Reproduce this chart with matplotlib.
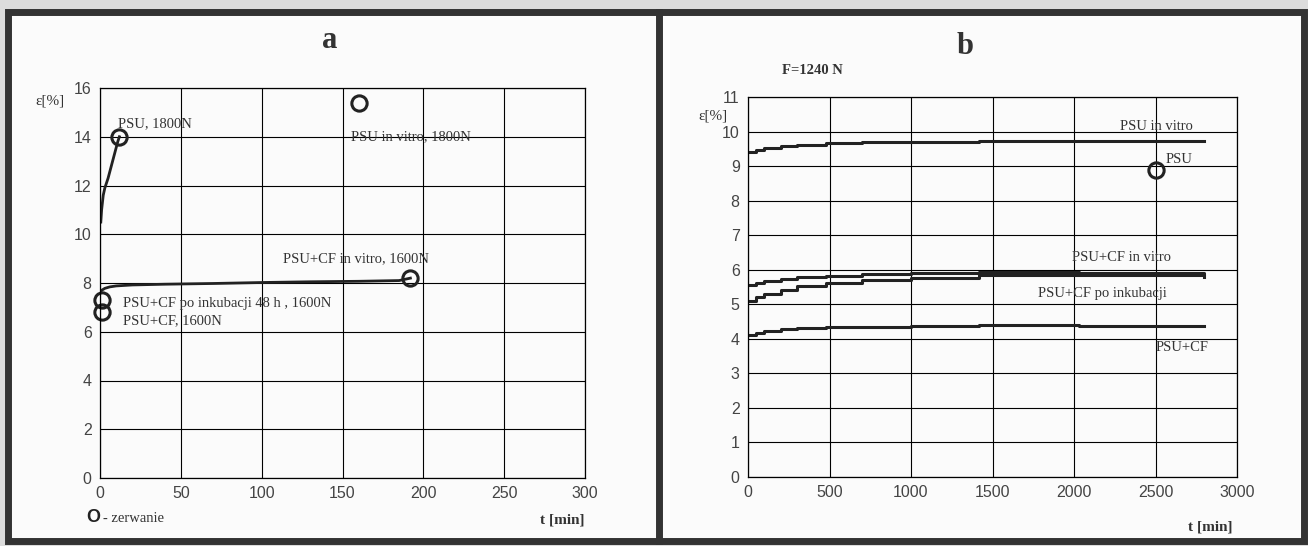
import matplotlib
matplotlib.use("Agg")
import matplotlib.pyplot as plt
from matplotlib.patches import Rectangle

W, H = 1308, 546

# panel a: creep curves up to rupture (t in min, strain in %)
a_psu_t = [0.5, 1, 2, 3, 5, 7, 9, 11, 12]
a_psu_e = [10.5, 11.0, 11.6, 11.9, 12.3, 12.8, 13.3, 13.8, 14.0]
a_cf_vitro_t = [0, 1, 3, 6, 10, 20, 40, 70, 100, 130, 160, 185, 192]
a_cf_vitro_e = [7.6, 7.7, 7.78, 7.84, 7.88, 7.92, 7.95, 7.98, 8.02, 8.05, 8.07, 8.1, 8.2]
a_break_t = [12, 160, 192, 1, 1]
a_break_e = [14.0, 15.4, 8.2, 7.3, 6.8]

# panel b: F=1240 N
b_t = [0, 50, 100, 200, 300, 480, 700, 1000, 1420, 2030, 2800]
b_psu_vitro = [9.40, 9.47, 9.52, 9.57, 9.61, 9.66, 9.69, 9.71, 9.74, 9.74, 9.72]
b_cf_vitro = [5.55, 5.62, 5.68, 5.73, 5.78, 5.83, 5.88, 5.90, 5.93, 5.90, 5.88]
b_cf_inkub = [5.10, 5.20, 5.30, 5.42, 5.52, 5.62, 5.70, 5.76, 5.85, 5.85, 5.80]
b_cf = [4.10, 4.18, 4.22, 4.27, 4.30, 4.33, 4.35, 4.37, 4.40, 4.38, 4.38]
b_break_t = [2500]
b_break_e = [8.9]

serif = "Liberation Serif"
sans = "Liberation Sans"

fig = plt.figure(figsize=(W / 100, H / 100), dpi=100)
fig.patch.set_facecolor("#dcdcdc")

# scanned page frame (behind the axes)
fig.add_artist(Rectangle((8 / W, (H - 541) / H), 1296 / W, 529 / H, transform=fig.transFigure,
                         facecolor="#fbfbfb", edgecolor="#333333", linewidth=5, zorder=-5))
fig.add_artist(plt.Line2D([659 / W, 659 / W], [(H - 541) / H, (H - 12) / H], transform=fig.transFigure,
                          color="#333333", linewidth=5, zorder=-4))


def make_axes(box, xlim, ylim, xticks, yticks):
    l, r, t, b = box
    ax = fig.add_axes([l / W, (H - b) / H, (r - l) / W, (b - t) / H])
    ax.set_zorder(2)
    ax.set_facecolor("none")
    ax.set_xlim(*xlim)
    ax.set_ylim(*ylim)
    ax.set_xticks(xticks)
    ax.set_yticks(yticks)
    ax.grid(True, color="black", linewidth=0.8)
    ax.tick_params(length=0, pad=6, labelsize=11.5, labelcolor="#444444")
    for lab in ax.get_xticklabels() + ax.get_yticklabels():
        lab.set_family(sans)
    for s in ax.spines.values():
        s.set_linewidth(0.9)
    return ax


# ---- panel a ----
ax1 = make_axes((100, 585, 88, 478), (0, 300), (0, 16), range(0, 301, 50), range(0, 17, 2))
ax1.plot(a_psu_t, a_psu_e, color="#222222", lw=2)
ax1.plot(a_cf_vitro_t, a_cf_vitro_e, color="#222222", lw=2)
ax1.plot(a_break_t, a_break_e, "o", ms=11, mfc="none", mec="#222222", mew=2.2, clip_on=False)
txt = dict(family=serif, fontsize=10.5, color="#333333")
ax1.text(11, 14.4, "PSU, 1800N", **txt)
ax1.text(155, 13.85, "PSU in vitro, 1800N", **txt)
ax1.text(113, 8.85, "PSU+CF in vitro, 1600N", **txt)
ax1.text(14, 7.0, "PSU+CF po inkubacji 48 h , 1600N", **txt)
ax1.text(14, 6.3, "PSU+CF, 1600N", **txt)

fig.text(330 / W, 1 - 40 / H, "a", family=serif, fontsize=22, fontweight="bold", ha="center", va="center",
         color="#333333")
fig.text(35 / W, 1 - 101 / H, "ε[%]", family=serif, fontsize=11, va="center", color="#333333")
fig.text(585 / W, 1 - 520 / H, "t [min]", family=serif, fontsize=11, fontweight="bold", ha="right", va="center",
         color="#333333")
fig.text(86 / W, 1 - 518 / H, "O", family=sans, fontsize=13, fontweight="bold", ha="left", va="center",
         color="#222222")
fig.text(103 / W, 1 - 518 / H, "- zerwanie", family=serif, fontsize=10.5, ha="left", va="center",
         color="#333333")

# ---- panel b ----
ax2 = make_axes((748, 1237, 97, 477), (0, 3000), (0, 11), range(0, 3001, 500), range(0, 12))
for vals in (b_psu_vitro, b_cf_vitro, b_cf_inkub, b_cf):
    ax2.plot(b_t, vals, color="#222222", lw=2.2, drawstyle="steps-post")
ax2.plot(b_break_t, b_break_e, "o", ms=11, mfc="none", mec="#222222", mew=2.2)
ax2.text(2280, 10.05, "PSU in vitro", **txt)
ax2.text(2560, 9.1, "PSU", **txt)
ax2.text(1990, 6.25, "PSU+CF in vitro", **txt)
ax2.text(1780, 5.2, "PSU+CF po inkubacji", **txt)
ax2.text(2500, 3.65, "PSU+CF", **txt)

fig.text(965 / W, 1 - 46 / H, "b", family=serif, fontsize=22, fontweight="bold", ha="center", va="center",
         color="#333333")
fig.text(812 / W, 1 - 70 / H, "F=1240 N", family=serif, fontsize=10.5, fontweight="bold", ha="center",
         va="center", color="#333333")
fig.text(698 / W, 1 - 116 / H, "ε[%]", family=serif, fontsize=11, va="center", color="#333333")
fig.text(1232 / W, 1 - 527 / H, "t [min]", family=serif, fontsize=11, fontweight="bold", ha="right",
         va="center", color="#333333")

fig.savefig("out.png", dpi=100, facecolor=fig.get_facecolor())
